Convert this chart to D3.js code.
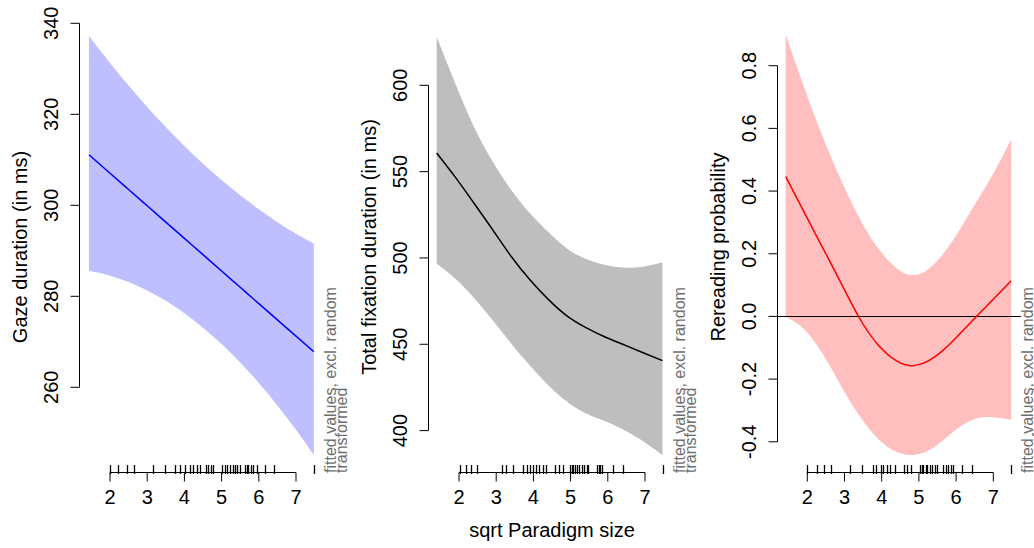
<!DOCTYPE html>
<html>
<head>
<meta charset="utf-8">
<script src="https://cdn.jsdelivr.net/npm/d3@7"></script>
<style>
  html, body { margin: 0; padding: 0; background: #fff; }
  svg { display: block; font-family: "Liberation Sans", Arial, Helvetica, sans-serif; }
</style>
</head>
<body>
<svg id="chart" width="1034" height="548"></svg>
<script>
// ---------------- data ----------------
const xTicks = [2, 3, 4, 5, 6, 7];
const xTickLabels = ["2", "3", "4", "5", "6", "7"];
const xTitle = "sqrt Paradigm size";
const noteLine1 = "fitted values, excl. random";
const noteLine2 = "transformed";

// Panel 1: Gaze duration
const p1Title = "Gaze duration (in ms)";
const p1YTicks = [260, 280, 300, 320, 340];
const p1YTickLabels = ["260", "280", "300", "320", "340"];
const p1X     = [1.435, 2.0, 2.5, 3.0, 3.5, 4.0, 4.5, 5.0, 5.5, 6.0, 6.5, 7.0, 7.48];
const p1Fit   = [311.1, 307.05, 303.47, 299.89, 296.31, 292.73, 289.15, 285.56, 281.98, 278.40, 274.82, 271.24, 267.80];
const p1Upper = [337.2, 331.27, 326.31, 321.62, 317.19, 313.04, 309.15, 305.54, 302.19, 299.11, 296.30, 293.76, 291.57];
const p1Lower = [285.6, 284.54, 283.13, 281.28, 279.00, 276.27, 273.09, 269.49, 265.44, 260.95, 256.02, 250.66, 245.09];
const p1Rug = [2.0, 2.22, 2.45, 2.65, 3.16, 3.48, 3.75, 3.88, 4.02, 4.15, 4.24, 4.33, 4.42, 4.57,
               4.64, 4.71, 4.78, 5.0, 5.09, 5.15, 5.23, 5.30, 5.36, 5.42, 5.49, 5.63, 5.67, 5.72,
               5.78, 5.85, 5.94, 6.17, 6.41, 7.48];

// Panel 2: Total fixation duration
const p2Title = "Total fixation duration (in ms)";
const p2YTicks = [400, 450, 500, 550, 600];
const p2YTickLabels = ["400", "450", "500", "550", "600"];
const p2X     = [1.40, 1.9, 2.4, 2.9, 3.4, 3.9, 4.4, 4.9, 5.4, 5.9, 6.4, 6.9, 7.47];
const p2Fit   = [560.8, 546.8, 531.8, 516.5, 501.0, 487.5, 476.0, 466.5, 459.8, 454.5, 450.0, 445.5, 440.5];
const p2Upper = [628.0, 601.0, 576.0, 556.0, 539.5, 526.0, 515.0, 505.5, 499.5, 496.0, 494.5, 494.8, 497.5];
const p2Lower = [496.6, 488.0, 477.0, 464.0, 450.5, 437.8, 426.3, 416.8, 410.0, 405.7, 400.8, 394.5, 385.8];
const p2Rug = [2.03, 2.19, 2.32, 2.49, 3.15, 3.26, 3.46, 3.71, 3.82, 3.91, 4.0, 4.07, 4.16, 4.25,
               4.34, 4.58, 4.69, 4.79, 4.98, 5.03, 5.07, 5.13, 5.18, 5.23, 5.30, 5.36, 5.43, 5.48,
               5.70, 5.75, 5.79, 5.85, 6.15, 6.40, 7.48];

// Panel 3: Rereading probability
const p3Title = "Rereading probability";
const p3YTicks = [-0.4, -0.2, 0.0, 0.2, 0.4, 0.6, 0.8];
const p3YTickLabels = ["-0.4", "-0.2", "0.0", "0.2", "0.4", "0.6", "0.8"];
const p3X     = [1.42, 1.9, 2.4, 2.9, 3.4, 3.9, 4.4, 4.8, 5.2, 5.6, 6.0, 6.5, 7.0, 7.48];
const p3Fit   = [0.446, 0.336, 0.222, 0.108, -0.005, -0.090, -0.142, -0.157, -0.145, -0.113, -0.068, -0.006, 0.055, 0.114];
const p3Upper = [0.898, 0.736, 0.577, 0.437, 0.314, 0.218, 0.154, 0.132, 0.146, 0.192, 0.258, 0.356, 0.456, 0.565];
const p3Lower = [-0.001, -0.039, -0.117, -0.220, -0.317, -0.390, -0.432, -0.442, -0.432, -0.401, -0.361, -0.327, -0.322, -0.330];
const p3Rug = [2.0, 2.25, 2.45, 2.64, 3.16, 3.46, 3.77, 3.86, 3.97, 4.04, 4.13, 4.22, 4.36, 4.60,
               4.69, 4.80, 5.03, 5.07, 5.12, 5.18, 5.23, 5.30, 5.36, 5.43, 5.48, 5.66, 5.73, 5.79,
               5.86, 5.92, 6.17, 6.42, 7.48];
const p3RefLine = 0;

// ---------------- layout / style ----------------
const FONT = 20;
const NOTE_FONT = 16;
const panels = [
  { title: p1Title, yTicks: p1YTicks, yLabels: p1YTickLabels, x: p1X, fit: p1Fit, up: p1Upper, lo: p1Lower, rug: p1Rug,
    axisX: 79.5, x2px: 110, yDomain: [260, 340], yRange: [387.3, 23.3],
    fill: "#BFBFFF", line: "#0000FF", ref: null },
  { title: p2Title, yTicks: p2YTicks, yLabels: p2YTickLabels, x: p2X, fit: p2Fit, up: p2Upper, lo: p2Lower, rug: p2Rug,
    axisX: 428.5, x2px: 459, yDomain: [400, 600], yRange: [430.6, 85.3],
    fill: "#BEBEBE", line: "#000000", ref: null },
  { title: p3Title, yTicks: p3YTicks, yLabels: p3YTickLabels, x: p3X, fit: p3Fit, up: p3Upper, lo: p3Lower, rug: p3Rug,
    axisX: 777.5, x2px: 807.3, yDomain: [-0.4, 0.8], yRange: [441.8, 65.7],
    fill: "#FFBFBF", line: "#FF0000", ref: p3RefLine }
];
const UNIT = 37.2; // px per x unit

const svg = d3.select("#chart");

panels.forEach((p, i) => {
  const g = svg.append("g");
  const x = d3.scaleLinear().domain([2, 7]).range([p.x2px, p.x2px + 5 * UNIT]);
  const y = d3.scaleLinear().domain(p.yDomain).range(p.yRange);
  const plotRight = p.axisX + (x(7.48) - x(1.42)) * 1.08;

  const pts = p.x.map((xv, k) => ({ x: xv, fit: p.fit[k], up: p.up[k], lo: p.lo[k] }));

  // confidence band
  g.append("path")
    .datum(pts)
    .attr("fill", p.fill)
    .attr("stroke", "none")
    .attr("d", d3.area().curve(d3.curveNatural)
      .x(d => x(d.x)).y0(d => y(d.lo)).y1(d => y(d.up)));

  // reference line
  if (p.ref !== null) {
    g.append("line")
      .attr("x1", p.axisX).attr("x2", plotRight)
      .attr("y1", Math.round(y(p.ref)) + 0.5).attr("y2", Math.round(y(p.ref)) + 0.5)
      .attr("stroke", "#000").attr("stroke-width", 1);
  }

  // fitted line
  g.append("path")
    .datum(pts)
    .attr("fill", "none")
    .attr("stroke", p.line)
    .attr("stroke-width", 1.5)
    .attr("d", d3.line().curve(d3.curveNatural).x(d => x(d.x)).y(d => y(d.fit)));

  // y axis
  const yAxis = g.append("g").attr("transform", `translate(${p.axisX},0)`);
  yAxis.append("line")
    .attr("x1", 0).attr("x2", 0)
    .attr("y1", y(p.yTicks[0])).attr("y2", y(p.yTicks[p.yTicks.length - 1]))
    .attr("stroke", "#000").attr("stroke-width", 1);
  p.yTicks.forEach((t, k) => {
    const yy = y(t);
    yAxis.append("line").attr("x1", -9).attr("x2", 0).attr("y1", yy).attr("y2", yy)
      .attr("stroke", "#000").attr("stroke-width", 1);
    yAxis.append("text")
      .attr("transform", `translate(-22,${yy}) rotate(-90)`)
      .attr("text-anchor", "middle")
      .attr("font-size", FONT)
      .attr("fill", "#000")
      .text(p.yLabels[k]);
  });
  // y title
  g.append("text")
    .attr("transform", `translate(${p.axisX - 53},247) rotate(-90)`)
    .attr("text-anchor", "middle")
    .attr("font-size", FONT)
    .attr("fill", "#000")
    .text(p.title);

  // x axis (rug axis)
  const axY = 472.5;
  g.append("line")
    .attr("x1", x(xTicks[0])).attr("x2", x(xTicks[xTicks.length - 1]))
    .attr("y1", axY).attr("y2", axY)
    .attr("stroke", "#000").attr("stroke-width", 1);
  xTicks.forEach((t, k) => {
    g.append("line").attr("x1", x(t)).attr("x2", x(t)).attr("y1", axY).attr("y2", axY + 9)
      .attr("stroke", "#000").attr("stroke-width", 1);
    g.append("text")
      .attr("x", x(t)).attr("y", 504)
      .attr("text-anchor", "middle")
      .attr("font-size", FONT)
      .attr("fill", "#000")
      .text(xTickLabels[k]);
  });
  // rug
  g.selectAll("line.rug").data(p.rug).enter().append("line")
    .attr("class", "rug")
    .attr("x1", d => Math.round(x(d)) + 0.5).attr("x2", d => Math.round(x(d)) + 0.5)
    .attr("y1", 465).attr("y2", 474)
    .attr("stroke", "#000").attr("stroke-width", 1.3);

  // note text
  const noteX = x(7.48) + 22;
  g.append("text")
    .attr("transform", `translate(${noteX},473) rotate(-90)`)
    .attr("text-anchor", "start")
    .attr("font-size", NOTE_FONT)
    .attr("fill", "#6E6E6E")
    .text(noteLine1);
  g.append("text")
    .attr("transform", `translate(${noteX + 11},473) rotate(-90)`)
    .attr("text-anchor", "start")
    .attr("font-size", NOTE_FONT)
    .attr("fill", "#6E6E6E")
    .text(noteLine2);

  if (i === 1) {
    g.append("text")
      .attr("x", (x(2) + x(7)) / 2).attr("y", 537)
      .attr("text-anchor", "middle")
      .attr("font-size", FONT)
      .attr("fill", "#000")
      .text(xTitle);
  }
});
</script>
</body>
</html>
